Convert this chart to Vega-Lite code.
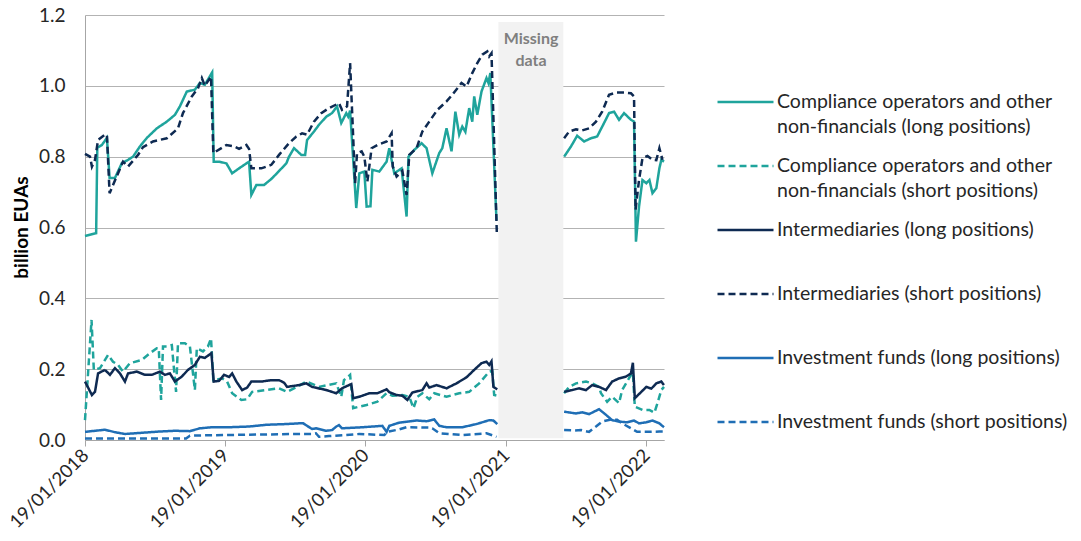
{
  "$schema": "https://vega.github.io/schema/vega-lite/v6.json",
  "width": 579,
  "height": 425,
  "autosize": "none",
  "padding": {"left": 85, "top": 15, "right": 417, "bottom": 101},
  "background": "white",
  "title": {
    "text": "billion EUAs",
    "orient": "left",
    "anchor": "middle",
    "font": "Lato",
    "fontSize": 19,
    "fontWeight": "bold",
    "color": "#000000",
    "offset": -26
  },
  "config": {
    "view": {"stroke": null},
    "font": "Lato",
    "style": {"guide-label": {"lineHeight": 25}},
    "axis": {"labelFont": "Lato", "labelColor": "#262626"},
    "axisX": {"labelFontSize": 18.5},
    "axisY": {"labelFontSize": 19},
    "legend": {"labelFont": "Lato", "labelFontSize": 19.5, "labelColor": "#262626"}
  },
  "encoding": {
    "y": {
      "field": "v",
      "type": "quantitative",
      "scale": {"domain": [0, 1.2], "nice": false},
      "axis": {
        "title": null,
        "values": [0, 0.2, 0.4, 0.6, 0.8, 1.0, 1.2],
        "format": ".1f",
        "labelFontSize": 19,
        "labelPadding": 20,
        "ticks": false,
        "tickSize": 0,
        "domainColor": "#A6A6A6",
        "gridColor": "#B3B3B3",
        "grid": true
      }
    }
  },
  "layer": [
    {
      "data": {
        "values": [{"start": "2020-365", "end": "2021-168", "v": 1.18, "bottom": 0.005}],
        "format": {"parse": {"start": "date:'%Y-%j'", "end": "date:'%Y-%j'"}}
      },
      "mark": {"type": "rect", "color": "#F2F2F2"},
      "encoding": {
        "x": {"field": "start", "type": "temporal"},
        "x2": {"field": "end"},
        "y2": {"field": "bottom"}
      }
    },
    {
      "data": {
        "format": {"parse": {"date": "date:'%Y-%j'"}},
        "values": [
          {"date":"2018-19","s":"a","v":0.576},{"date":"2018-48","s":"a","v":0.584},{"date":"2018-51","s":"a","v":0.825},{"date":"2018-63","s":"a","v":0.833},{"date":"2018-76","s":"a","v":0.853},{"date":"2018-83","s":"a","v":0.74},{"date":"2018-97","s":"a","v":0.74},{"date":"2018-115","s":"a","v":0.782},{"date":"2018-128","s":"a","v":0.789},{"date":"2018-144","s":"a","v":0.80},{"date":"2018-162","s":"a","v":0.829},{"date":"2018-180","s":"a","v":0.853},{"date":"2018-206","s":"a","v":0.88},{"date":"2018-232","s":"a","v":0.899},{"date":"2018-253","s":"a","v":0.918},{"date":"2018-266","s":"a","v":0.942},{"date":"2018-284","s":"a","v":0.984},{"date":"2018-305","s":"a","v":0.989},{"date":"2018-318","s":"a","v":1.008},{"date":"2018-331","s":"a","v":1.003},{"date":"2018-350","s":"a","v":1.038},{"date":"2018-354","s":"a","v":0.786},{"date":"2019-3","s":"a","v":0.786},{"date":"2019-22","s":"a","v":0.781},{"date":"2019-37","s":"a","v":0.753},{"date":"2019-55","s":"a","v":0.767},{"date":"2019-81","s":"a","v":0.786},{"date":"2019-87","s":"a","v":0.692},{"date":"2019-100","s":"a","v":0.72},{"date":"2019-120","s":"a","v":0.72},{"date":"2019-141","s":"a","v":0.739},{"date":"2019-178","s":"a","v":0.781},{"date":"2019-185","s":"a","v":0.80},{"date":"2019-198","s":"a","v":0.824},{"date":"2019-217","s":"a","v":0.805},{"date":"2019-227","s":"a","v":0.805},{"date":"2019-232","s":"a","v":0.847},{"date":"2019-250","s":"a","v":0.871},{"date":"2019-263","s":"a","v":0.89},{"date":"2019-282","s":"a","v":0.913},{"date":"2019-297","s":"a","v":0.923},{"date":"2019-310","s":"a","v":0.942},{"date":"2019-321","s":"a","v":0.895},{"date":"2019-334","s":"a","v":0.923},{"date":"2019-339","s":"a","v":0.913},{"date":"2019-344","s":"a","v":0.93},{"date":"2019-360","s":"a","v":0.655},{"date":"2020-3","s":"a","v":0.753},{"date":"2020-16","s":"a","v":0.758},{"date":"2020-22","s":"a","v":0.659},{"date":"2020-32","s":"a","v":0.66},{"date":"2020-37","s":"a","v":0.763},{"date":"2020-55","s":"a","v":0.758},{"date":"2020-74","s":"a","v":0.786},{"date":"2020-81","s":"a","v":0.824},{"date":"2020-94","s":"a","v":0.753},{"date":"2020-113","s":"a","v":0.767},{"date":"2020-126","s":"a","v":0.631},{"date":"2020-131","s":"a","v":0.80},{"date":"2020-146","s":"a","v":0.819},{"date":"2020-165","s":"a","v":0.838},{"date":"2020-178","s":"a","v":0.824},{"date":"2020-193","s":"a","v":0.753},{"date":"2020-211","s":"a","v":0.81},{"date":"2020-219","s":"a","v":0.824},{"date":"2020-230","s":"a","v":0.88},{"date":"2020-243","s":"a","v":0.815},{"date":"2020-253","s":"a","v":0.927},{"date":"2020-263","s":"a","v":0.862},{"date":"2020-271","s":"a","v":0.885},{"date":"2020-279","s":"a","v":0.87},{"date":"2020-289","s":"a","v":0.937},{"date":"2020-297","s":"a","v":0.899},{"date":"2020-302","s":"a","v":0.97},{"date":"2020-310","s":"a","v":0.918},{"date":"2020-321","s":"a","v":0.984},{"date":"2020-334","s":"a","v":1.022},{"date":"2020-339","s":"a","v":1.008},{"date":"2020-344","s":"a","v":1.036},{"date":"2020-360","s":"a","v":0.62},{"date":"2021-60","s":"a","v":null},{"date":"2021-170","s":"a","v":0.80},{"date":"2021-188","s":"a","v":0.829},{"date":"2021-204","s":"a","v":0.859},{"date":"2021-222","s":"a","v":0.843},{"date":"2021-240","s":"a","v":0.852},{"date":"2021-256","s":"a","v":0.857},{"date":"2021-274","s":"a","v":0.895},{"date":"2021-287","s":"a","v":0.923},{"date":"2021-300","s":"a","v":0.927},{"date":"2021-313","s":"a","v":0.904},{"date":"2021-326","s":"a","v":0.923},{"date":"2021-344","s":"a","v":0.904},{"date":"2021-352","s":"a","v":0.899},{"date":"2021-357","s":"a","v":0.56},{"date":"2021-365","s":"a","v":0.659},{"date":"2022-9","s":"a","v":0.734},{"date":"2022-19","s":"a","v":0.725},{"date":"2022-27","s":"a","v":0.734},{"date":"2022-35","s":"a","v":0.697},{"date":"2022-45","s":"a","v":0.711},{"date":"2022-53","s":"a","v":0.767},{"date":"2022-58","s":"a","v":0.791},{"date":"2022-65","s":"a","v":0.786},
          {"date":"2018-19","s":"b","v":0.056},{"date":"2018-36","s":"b","v":0.339},{"date":"2018-42","s":"b","v":0.198},{"date":"2018-58","s":"b","v":0.203},{"date":"2018-79","s":"b","v":0.24},{"date":"2018-92","s":"b","v":0.221},{"date":"2018-105","s":"b","v":0.212},{"date":"2018-118","s":"b","v":0.193},{"date":"2018-136","s":"b","v":0.217},{"date":"2018-167","s":"b","v":0.226},{"date":"2018-188","s":"b","v":0.245},{"date":"2018-206","s":"b","v":0.259},{"date":"2018-211","s":"b","v":0.259},{"date":"2018-217","s":"b","v":0.113},{"date":"2018-222","s":"b","v":0.264},{"date":"2018-232","s":"b","v":0.264},{"date":"2018-245","s":"b","v":0.268},{"date":"2018-256","s":"b","v":0.136},{"date":"2018-261","s":"b","v":0.273},{"date":"2018-279","s":"b","v":0.273},{"date":"2018-292","s":"b","v":0.264},{"date":"2018-305","s":"b","v":0.141},{"date":"2018-310","s":"b","v":0.259},{"date":"2018-326","s":"b","v":0.25},{"date":"2018-339","s":"b","v":0.264},{"date":"2018-347","s":"b","v":0.287},{"date":"2018-353","s":"b","v":0.169},{"date":"2019-11","s":"b","v":0.174},{"date":"2019-24","s":"b","v":0.165},{"date":"2019-37","s":"b","v":0.132},{"date":"2019-61","s":"b","v":0.113},{"date":"2019-76","s":"b","v":0.115},{"date":"2019-89","s":"b","v":0.136},{"date":"2019-126","s":"b","v":0.141},{"date":"2019-159","s":"b","v":0.146},{"date":"2019-180","s":"b","v":0.136},{"date":"2019-206","s":"b","v":0.15},{"date":"2019-230","s":"b","v":0.165},{"date":"2019-263","s":"b","v":0.15},{"date":"2019-308","s":"b","v":0.16},{"date":"2019-321","s":"b","v":0.122},{"date":"2019-328","s":"b","v":0.169},{"date":"2019-344","s":"b","v":0.184},{"date":"2019-352","s":"b","v":0.09},{"date":"2020-22","s":"b","v":0.099},{"date":"2020-50","s":"b","v":0.108},{"date":"2020-74","s":"b","v":0.132},{"date":"2020-89","s":"b","v":0.125},{"date":"2020-115","s":"b","v":0.127},{"date":"2020-133","s":"b","v":0.122},{"date":"2020-144","s":"b","v":0.09},{"date":"2020-154","s":"b","v":0.122},{"date":"2020-167","s":"b","v":0.132},{"date":"2020-185","s":"b","v":0.115},{"date":"2020-198","s":"b","v":0.132},{"date":"2020-230","s":"b","v":0.122},{"date":"2020-263","s":"b","v":0.132},{"date":"2020-289","s":"b","v":0.136},{"date":"2020-315","s":"b","v":0.16},{"date":"2020-341","s":"b","v":0.193},{"date":"2020-349","s":"b","v":0.195},{"date":"2020-354","s":"b","v":0.127},{"date":"2020-362","s":"b","v":0.125},{"date":"2021-60","s":"b","v":null},{"date":"2021-170","s":"b","v":0.132},{"date":"2021-183","s":"b","v":0.15},{"date":"2021-201","s":"b","v":0.16},{"date":"2021-227","s":"b","v":0.165},{"date":"2021-243","s":"b","v":0.16},{"date":"2021-261","s":"b","v":0.15},{"date":"2021-266","s":"b","v":0.132},{"date":"2021-282","s":"b","v":0.108},{"date":"2021-295","s":"b","v":0.122},{"date":"2021-313","s":"b","v":0.104},{"date":"2021-321","s":"b","v":0.141},{"date":"2021-334","s":"b","v":0.165},{"date":"2021-344","s":"b","v":0.184},{"date":"2021-349","s":"b","v":0.19},{"date":"2021-354","s":"b","v":0.094},{"date":"2022-9","s":"b","v":0.085},{"date":"2022-27","s":"b","v":0.085},{"date":"2022-40","s":"b","v":0.077},{"date":"2022-48","s":"b","v":0.104},{"date":"2022-58","s":"b","v":0.141},{"date":"2022-65","s":"b","v":0.15},
          {"date":"2018-19","s":"c","v":0.165},{"date":"2018-37","s":"c","v":0.127},{"date":"2018-45","s":"c","v":0.136},{"date":"2018-53","s":"c","v":0.188},{"date":"2018-71","s":"c","v":0.198},{"date":"2018-84","s":"c","v":0.184},{"date":"2018-97","s":"c","v":0.203},{"date":"2018-110","s":"c","v":0.188},{"date":"2018-123","s":"c","v":0.165},{"date":"2018-131","s":"c","v":0.188},{"date":"2018-154","s":"c","v":0.193},{"date":"2018-175","s":"c","v":0.184},{"date":"2018-193","s":"c","v":0.184},{"date":"2018-214","s":"c","v":0.193},{"date":"2018-227","s":"c","v":0.184},{"date":"2018-240","s":"c","v":0.188},{"date":"2018-253","s":"c","v":0.165},{"date":"2018-271","s":"c","v":0.179},{"date":"2018-287","s":"c","v":0.198},{"date":"2018-305","s":"c","v":0.212},{"date":"2018-318","s":"c","v":0.235},{"date":"2018-331","s":"c","v":0.232},{"date":"2018-348","s":"c","v":0.245},{"date":"2018-354","s":"c","v":0.165},{"date":"2019-3","s":"c","v":0.167},{"date":"2019-16","s":"c","v":0.184},{"date":"2019-29","s":"c","v":0.178},{"date":"2019-37","s":"c","v":0.188},{"date":"2019-48","s":"c","v":0.165},{"date":"2019-63","s":"c","v":0.141},{"date":"2019-76","s":"c","v":0.148},{"date":"2019-87","s":"c","v":0.165},{"date":"2019-113","s":"c","v":0.165},{"date":"2019-139","s":"c","v":0.169},{"date":"2019-159","s":"c","v":0.169},{"date":"2019-172","s":"c","v":0.162},{"date":"2019-180","s":"c","v":0.15},{"date":"2019-211","s":"c","v":0.155},{"date":"2019-230","s":"c","v":0.16},{"date":"2019-245","s":"c","v":0.15},{"date":"2019-282","s":"c","v":0.141},{"date":"2019-308","s":"c","v":0.132},{"date":"2019-323","s":"c","v":0.146},{"date":"2019-341","s":"c","v":0.155},{"date":"2019-347","s":"c","v":0.158},{"date":"2019-352","s":"c","v":0.118},{"date":"2020-3","s":"c","v":0.122},{"date":"2020-29","s":"c","v":0.132},{"date":"2020-50","s":"c","v":0.132},{"date":"2020-74","s":"c","v":0.143},{"date":"2020-81","s":"c","v":0.135},{"date":"2020-100","s":"c","v":0.127},{"date":"2020-115","s":"c","v":0.125},{"date":"2020-128","s":"c","v":0.113},{"date":"2020-141","s":"c","v":0.134},{"date":"2020-167","s":"c","v":0.141},{"date":"2020-178","s":"c","v":0.16},{"date":"2020-185","s":"c","v":0.148},{"date":"2020-204","s":"c","v":0.155},{"date":"2020-230","s":"c","v":0.146},{"date":"2020-256","s":"c","v":0.16},{"date":"2020-282","s":"c","v":0.177},{"date":"2020-302","s":"c","v":0.198},{"date":"2020-321","s":"c","v":0.217},{"date":"2020-334","s":"c","v":0.221},{"date":"2020-341","s":"c","v":0.212},{"date":"2020-347","s":"c","v":0.222},{"date":"2020-352","s":"c","v":0.15},{"date":"2020-362","s":"c","v":0.143},{"date":"2021-60","s":"c","v":null},{"date":"2021-170","s":"c","v":0.136},{"date":"2021-191","s":"c","v":0.141},{"date":"2021-209","s":"c","v":0.146},{"date":"2021-227","s":"c","v":0.141},{"date":"2021-243","s":"c","v":0.155},{"date":"2021-261","s":"c","v":0.15},{"date":"2021-279","s":"c","v":0.141},{"date":"2021-295","s":"c","v":0.165},{"date":"2021-313","s":"c","v":0.174},{"date":"2021-331","s":"c","v":0.179},{"date":"2021-344","s":"c","v":0.188},{"date":"2021-349","s":"c","v":0.218},{"date":"2021-354","s":"c","v":0.118},{"date":"2022-6","s":"c","v":0.136},{"date":"2022-19","s":"c","v":0.15},{"date":"2022-32","s":"c","v":0.145},{"date":"2022-45","s":"c","v":0.16},{"date":"2022-58","s":"c","v":0.165},{"date":"2022-65","s":"c","v":0.155},
          {"date":"2018-19","s":"d","v":0.808},{"date":"2018-32","s":"d","v":0.80},{"date":"2018-37","s":"d","v":0.772},{"date":"2018-45","s":"d","v":0.791},{"date":"2018-53","s":"d","v":0.847},{"date":"2018-71","s":"d","v":0.862},{"date":"2018-76","s":"d","v":0.862},{"date":"2018-83","s":"d","v":0.697},{"date":"2018-92","s":"d","v":0.72},{"date":"2018-118","s":"d","v":0.786},{"date":"2018-131","s":"d","v":0.772},{"date":"2018-157","s":"d","v":0.805},{"date":"2018-170","s":"d","v":0.827},{"date":"2018-196","s":"d","v":0.843},{"date":"2018-232","s":"d","v":0.852},{"date":"2018-261","s":"d","v":0.88},{"date":"2018-274","s":"d","v":0.923},{"date":"2018-297","s":"d","v":0.97},{"date":"2018-313","s":"d","v":0.993},{"date":"2018-323","s":"d","v":1.022},{"date":"2018-331","s":"d","v":1.0},{"date":"2018-347","s":"d","v":1.026},{"date":"2018-353","s":"d","v":0.81},{"date":"2019-22","s":"d","v":0.833},{"date":"2019-42","s":"d","v":0.829},{"date":"2019-55","s":"d","v":0.822},{"date":"2019-74","s":"d","v":0.833},{"date":"2019-81","s":"d","v":0.822},{"date":"2019-87","s":"d","v":0.767},{"date":"2019-113","s":"d","v":0.767},{"date":"2019-139","s":"d","v":0.777},{"date":"2019-159","s":"d","v":0.805},{"date":"2019-185","s":"d","v":0.838},{"date":"2019-204","s":"d","v":0.857},{"date":"2019-219","s":"d","v":0.866},{"date":"2019-232","s":"d","v":0.862},{"date":"2019-250","s":"d","v":0.899},{"date":"2019-269","s":"d","v":0.923},{"date":"2019-289","s":"d","v":0.937},{"date":"2019-315","s":"d","v":0.951},{"date":"2019-323","s":"d","v":0.932},{"date":"2019-336","s":"d","v":0.942},{"date":"2019-344","s":"d","v":1.064},{"date":"2019-357","s":"d","v":0.725},{"date":"2019-362","s":"d","v":0.81},{"date":"2020-9","s":"d","v":0.815},{"date":"2020-16","s":"d","v":0.80},{"date":"2020-24","s":"d","v":0.73},{"date":"2020-35","s":"d","v":0.824},{"date":"2020-50","s":"d","v":0.833},{"date":"2020-74","s":"d","v":0.843},{"date":"2020-87","s":"d","v":0.866},{"date":"2020-90","s":"d","v":0.772},{"date":"2020-100","s":"d","v":0.744},{"date":"2020-115","s":"d","v":0.76},{"date":"2020-126","s":"d","v":0.692},{"date":"2020-133","s":"d","v":0.805},{"date":"2020-152","s":"d","v":0.824},{"date":"2020-167","s":"d","v":0.871},{"date":"2020-185","s":"d","v":0.899},{"date":"2020-206","s":"d","v":0.932},{"date":"2020-230","s":"d","v":0.956},{"date":"2020-245","s":"d","v":0.975},{"date":"2020-269","s":"d","v":1.008},{"date":"2020-282","s":"d","v":0.998},{"date":"2020-297","s":"d","v":1.036},{"date":"2020-310","s":"d","v":1.064},{"date":"2020-323","s":"d","v":1.088},{"date":"2020-336","s":"d","v":1.097},{"date":"2020-341","s":"d","v":1.083},{"date":"2020-347","s":"d","v":1.092},{"date":"2020-361","s":"d","v":0.579},{"date":"2021-60","s":"d","v":null},{"date":"2021-170","s":"d","v":0.852},{"date":"2021-183","s":"d","v":0.871},{"date":"2021-201","s":"d","v":0.877},{"date":"2021-217","s":"d","v":0.874},{"date":"2021-235","s":"d","v":0.88},{"date":"2021-253","s":"d","v":0.899},{"date":"2021-269","s":"d","v":0.927},{"date":"2021-287","s":"d","v":0.975},{"date":"2021-305","s":"d","v":0.981},{"date":"2021-326","s":"d","v":0.981},{"date":"2021-344","s":"d","v":0.979},{"date":"2021-352","s":"d","v":0.97},{"date":"2021-356","s":"d","v":0.65},{"date":"2021-365","s":"d","v":0.734},{"date":"2022-9","s":"d","v":0.796},{"date":"2022-22","s":"d","v":0.802},{"date":"2022-35","s":"d","v":0.791},{"date":"2022-45","s":"d","v":0.79},{"date":"2022-53","s":"d","v":0.824},{"date":"2022-61","s":"d","v":0.791},
          {"date":"2018-19","s":"e","v":0.023},{"date":"2018-45","s":"e","v":0.026},{"date":"2018-71","s":"e","v":0.029},{"date":"2018-97","s":"e","v":0.022},{"date":"2018-123","s":"e","v":0.017},{"date":"2018-162","s":"e","v":0.02},{"date":"2018-214","s":"e","v":0.024},{"date":"2018-253","s":"e","v":0.026},{"date":"2018-292","s":"e","v":0.025},{"date":"2018-318","s":"e","v":0.033},{"date":"2018-350","s":"e","v":0.036},{"date":"2019-29","s":"e","v":0.036},{"date":"2019-81","s":"e","v":0.038},{"date":"2019-126","s":"e","v":0.043},{"date":"2019-178","s":"e","v":0.045},{"date":"2019-211","s":"e","v":0.047},{"date":"2019-222","s":"e","v":0.047},{"date":"2019-245","s":"e","v":0.031},{"date":"2019-255","s":"e","v":0.033},{"date":"2019-282","s":"e","v":0.026},{"date":"2019-297","s":"e","v":0.028},{"date":"2019-308","s":"e","v":0.038},{"date":"2019-315","s":"e","v":0.042},{"date":"2019-323","s":"e","v":0.033},{"date":"2020-11","s":"e","v":0.036},{"date":"2020-63","s":"e","v":0.04},{"date":"2020-74","s":"e","v":0.023},{"date":"2020-81","s":"e","v":0.04},{"date":"2020-107","s":"e","v":0.049},{"date":"2020-152","s":"e","v":0.055},{"date":"2020-178","s":"e","v":0.053},{"date":"2020-198","s":"e","v":0.058},{"date":"2020-211","s":"e","v":0.04},{"date":"2020-230","s":"e","v":0.036},{"date":"2020-271","s":"e","v":0.036},{"date":"2020-308","s":"e","v":0.045},{"date":"2020-341","s":"e","v":0.056},{"date":"2020-352","s":"e","v":0.055},{"date":"2020-362","s":"e","v":0.045},{"date":"2021-60","s":"e","v":null},{"date":"2021-170","s":"e","v":0.08},{"date":"2021-188","s":"e","v":0.077},{"date":"2021-201","s":"e","v":0.075},{"date":"2021-217","s":"e","v":0.078},{"date":"2021-235","s":"e","v":0.073},{"date":"2021-261","s":"e","v":0.087},{"date":"2021-279","s":"e","v":0.071},{"date":"2021-295","s":"e","v":0.056},{"date":"2021-313","s":"e","v":0.052},{"date":"2021-334","s":"e","v":0.05},{"date":"2021-352","s":"e","v":0.055},{"date":"2021-365","s":"e","v":0.047},{"date":"2022-19","s":"e","v":0.05},{"date":"2022-35","s":"e","v":0.055},{"date":"2022-53","s":"e","v":0.047},{"date":"2022-65","s":"e","v":0.036},
          {"date":"2018-19","s":"f","v":0.004},{"date":"2018-282","s":"f","v":0.004},{"date":"2018-292","s":"f","v":0.012},{"date":"2018-318","s":"f","v":0.013},{"date":"2019-81","s":"f","v":0.015},{"date":"2019-211","s":"f","v":0.017},{"date":"2019-245","s":"f","v":0.017},{"date":"2019-255","s":"f","v":0.019},{"date":"2019-263","s":"f","v":0.009},{"date":"2019-289","s":"f","v":0.011},{"date":"2020-3","s":"f","v":0.017},{"date":"2020-68","s":"f","v":0.014},{"date":"2020-76","s":"f","v":0.023},{"date":"2020-107","s":"f","v":0.03},{"date":"2020-126","s":"f","v":0.036},{"date":"2020-185","s":"f","v":0.035},{"date":"2020-193","s":"f","v":0.033},{"date":"2020-211","s":"f","v":0.019},{"date":"2020-271","s":"f","v":0.014},{"date":"2020-334","s":"f","v":0.019},{"date":"2020-360","s":"f","v":0.009},{"date":"2021-60","s":"f","v":null},{"date":"2021-170","s":"f","v":0.028},{"date":"2021-196","s":"f","v":0.027},{"date":"2021-214","s":"f","v":0.028},{"date":"2021-235","s":"f","v":0.023},{"date":"2021-253","s":"f","v":0.038},{"date":"2021-269","s":"f","v":0.052},{"date":"2021-292","s":"f","v":0.058},{"date":"2021-308","s":"f","v":0.057},{"date":"2021-321","s":"f","v":0.047},{"date":"2021-344","s":"f","v":0.033},{"date":"2021-360","s":"f","v":0.023},{"date":"2022-27","s":"f","v":0.023},{"date":"2022-53","s":"f","v":0.024},{"date":"2022-65","s":"f","v":0.024}
        ]
      },
      "transform": [
        {
          "lookup": "s",
          "from": {
            "data": {
              "values": [
                {"s": "a", "series": "Compliance operators and other non-financials (long positions)"},
                {"s": "b", "series": "Compliance operators and other non-financials (short positions)"},
                {"s": "c", "series": "Intermediaries (long positions)"},
                {"s": "d", "series": "Intermediaries (short positions)"},
                {"s": "e", "series": "Investment funds (long positions)"},
                {"s": "f", "series": "Investment funds (short positions)"}
              ]
            },
            "key": "s",
            "fields": ["series"]
          }
        }
      ],
      "mark": {"type": "line", "strokeWidth": 2.5, "invalid": "break-paths-filter-domains"},
      "encoding": {
        "x": {
          "field": "date",
          "type": "temporal",
          "scale": {"domain": [{"year": 2018, "month": 1, "date": 19}, {"year": 2022, "month": 3, "date": 6}]},
          "axis": {
            "title": null,
            "values": [
              {"year": 2018, "month": 1, "date": 19},
              {"year": 2019, "month": 1, "date": 19},
              {"year": 2020, "month": 1, "date": 19},
              {"year": 2021, "month": 1, "date": 19},
              {"year": 2022, "month": 1, "date": 19}
            ],
            "format": "%d/%m/%Y",
            "labelAngle": -45,
            "labelAlign": "right",
            "labelBaseline": "middle",
            "labelPadding": 6,
            "labelOverlap": false,
            "labelFlush": false,
            "domainColor": "#A6A6A6",
            "tickColor": "#A6A6A6",
            "tickSize": 6,
            "grid": false
          }
        },
        "color": {
          "field": "series",
          "type": "nominal",
          "scale": {
            "domain": [
              "Compliance operators and other non-financials (long positions)",
              "Compliance operators and other non-financials (short positions)",
              "Intermediaries (long positions)",
              "Intermediaries (short positions)",
              "Investment funds (long positions)",
              "Investment funds (short positions)"
            ],
            "range": ["#1FA49C", "#1FA49C", "#0E2A52", "#0E2A52", "#1F6EB5", "#1F6EB5"]
          },
          "legend": {
            "orient": "none",
            "legendX": 631,
            "legendY": 74,
            "title": null,
            "padding": 0,
            "symbolType": "stroke",
            "symbolSize": 3136,
            "symbolStrokeWidth": 2.5,
            "labelOffset": 2,
            "labelLimit": 400,
            "labelBaseline": "middle",
            "clipHeight": 26,
            "rowPadding": 16,
            "labelExpr": "indexof(datum.label, 'Compliance') == 0 ? [substring(datum.label, 0, 30), substring(datum.label, 31)] : [datum.label, ' ']"
          }
        },
        "strokeDash": {
          "field": "series",
          "type": "nominal",
          "scale": {
            "domain": [
              "Compliance operators and other non-financials (long positions)",
              "Compliance operators and other non-financials (short positions)",
              "Intermediaries (long positions)",
              "Intermediaries (short positions)",
              "Investment funds (long positions)",
              "Investment funds (short positions)"
            ],
            "range": [[1, 0], [7, 4], [1, 0], [7, 4], [1, 0], [7, 4]]
          },
          "legend": {
            "orient": "none",
            "legendX": 631,
            "legendY": 74,
            "title": null,
            "padding": 0,
            "symbolType": "stroke",
            "symbolSize": 3136,
            "symbolStrokeWidth": 2.5,
            "labelOffset": 2,
            "labelLimit": 400,
            "labelBaseline": "middle",
            "clipHeight": 26,
            "rowPadding": 16,
            "labelExpr": "indexof(datum.label, 'Compliance') == 0 ? [substring(datum.label, 0, 30), substring(datum.label, 31)] : [datum.label, ' ']"
          }
        }
      }
    },
    {
      "data": {
        "values": [{"date": "2021-84", "v": 1.156, "label": "Missing data"}],
        "format": {"parse": {"date": "date:'%Y-%j'"}}
      },
      "mark": {
        "type": "text",
        "lineBreak": " ",
        "baseline": "top",
        "align": "center",
        "font": "Lato",
        "fontWeight": "bold",
        "fontSize": 16,
        "lineHeight": 22,
        "color": "#7F7F7F"
      },
      "encoding": {
        "x": {"field": "date", "type": "temporal"},
        "text": {"field": "label"}
      }
    }
  ]
}
